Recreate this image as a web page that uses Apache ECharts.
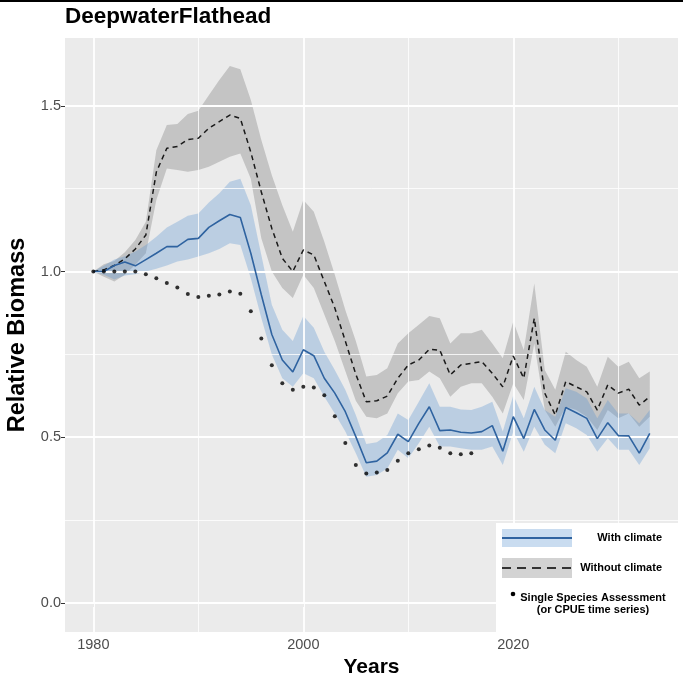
<!DOCTYPE html>
<html>
<head>
<meta charset="utf-8">
<script src="https://cdn.jsdelivr.net/npm/echarts@6/dist/echarts.min.js"></script>
<style>
html,body{margin:0;padding:0;background:#fff;}
#chart{width:683px;height:675px;}
</style>
</head>
<body>
<div id="chart"></div>
<script>
const years = [1980,1981,1982,1983,1984,1985,1986,1987,1988,1989,1990,1991,1992,1993,1994,1995,1996,1997,1998,1999,2000,2001,2002,2003,2004,2005,2006,2007,2008,2009,2010,2011,2012,2013,2014,2015,2016,2017,2018,2019,2020,2021,2022,2023,2024,2025,2026,2027,2028,2029,2030,2031,2032,2033];

const withClimate = [1.000,1.000,1.018,1.029,1.017,1.036,1.055,1.075,1.075,1.097,1.100,1.133,1.153,1.172,1.163,1.055,0.930,0.810,0.733,0.697,0.764,0.746,0.678,0.633,0.577,0.502,0.423,0.428,0.453,0.509,0.487,0.542,0.592,0.520,0.522,0.515,0.513,0.517,0.535,0.458,0.562,0.496,0.584,0.522,0.491,0.590,0.574,0.557,0.496,0.544,0.505,0.504,0.452,0.512];
const withLow = [1.000,0.990,0.976,0.988,0.992,1.000,1.008,1.018,1.030,1.036,1.045,1.055,1.068,1.085,1.080,0.980,0.860,0.750,0.678,0.652,0.693,0.678,0.622,0.572,0.517,0.452,0.381,0.386,0.406,0.462,0.437,0.482,0.532,0.472,0.472,0.467,0.462,0.462,0.472,0.416,0.517,0.456,0.532,0.477,0.452,0.542,0.527,0.507,0.456,0.497,0.462,0.462,0.416,0.467];
const withHigh = [1.000,1.017,1.036,1.046,1.060,1.080,1.105,1.133,1.150,1.168,1.175,1.208,1.236,1.271,1.280,1.200,1.050,0.900,0.824,0.790,0.866,0.830,0.758,0.703,0.643,0.567,0.480,0.485,0.507,0.572,0.552,0.607,0.663,0.592,0.592,0.584,0.582,0.592,0.607,0.517,0.627,0.557,0.652,0.582,0.562,0.648,0.637,0.617,0.557,0.612,0.572,0.572,0.542,0.582];

const withoutClimate = [1.000,1.005,1.018,1.038,1.068,1.110,1.300,1.372,1.377,1.398,1.402,1.432,1.452,1.472,1.462,1.360,1.240,1.130,1.040,1.000,1.065,1.050,0.970,0.890,0.790,0.690,0.607,0.610,0.624,0.678,0.718,0.733,0.765,0.763,0.688,0.718,0.723,0.728,0.693,0.652,0.745,0.678,0.859,0.633,0.567,0.668,0.652,0.637,0.582,0.658,0.633,0.645,0.597,0.622];
const withoutLow = [1.000,0.984,0.970,0.990,1.020,1.055,1.216,1.311,1.306,1.301,1.306,1.316,1.331,1.346,1.356,1.280,1.100,1.000,0.950,0.920,0.990,0.950,0.870,0.790,0.700,0.610,0.562,0.557,0.572,0.633,0.668,0.673,0.698,0.678,0.622,0.652,0.663,0.663,0.622,0.572,0.663,0.612,0.783,0.582,0.532,0.592,0.582,0.562,0.522,0.582,0.557,0.572,0.532,0.562];
const withoutHigh = [1.000,1.022,1.032,1.058,1.095,1.150,1.366,1.442,1.445,1.475,1.485,1.532,1.578,1.620,1.610,1.517,1.397,1.290,1.200,1.120,1.216,1.180,1.090,0.990,0.884,0.790,0.683,0.688,0.708,0.783,0.814,0.839,0.866,0.859,0.783,0.814,0.814,0.824,0.783,0.738,0.849,0.763,0.964,0.703,0.643,0.758,0.733,0.713,0.652,0.743,0.713,0.728,0.678,0.698];

const ssaYears = [1980,1981,1982,1983,1984,1985,1986,1987,1988,1989,1990,1991,1992,1993,1994,1995,1996,1997,1998,1999,2000,2001,2002,2003,2004,2005,2006,2007,2008,2009,2010,2011,2012,2013,2014,2015,2016];
const ssaValues = [1.000,1.000,1.000,1.000,1.000,0.992,0.980,0.965,0.952,0.932,0.923,0.927,0.931,0.940,0.933,0.880,0.798,0.717,0.663,0.643,0.652,0.650,0.627,0.563,0.483,0.416,0.391,0.394,0.401,0.429,0.452,0.464,0.475,0.468,0.452,0.449,0.452];

const xTickLabels = [1980,2000,2020];
const xMinorBreaks = [1990,2010,2030];
const yTickLabels = [0,0.5,1.0,1.5];
const yMinorBreaks = [0.25,0.75,1.25];

const pair = (xs, ys) => xs.map((x,i)=>[x, ys[i]]);

const FONT = '"Liberation Sans", Arial, Helvetica, sans-serif';
const BLUE = '#2f63a0';
const BLUE_BAND = 'rgba(90,150,210,0.33)';
const GRAY_BAND = 'rgba(70,70,70,0.24)';

const gridMarks = [];
xTickLabels.forEach(v=>gridMarks.push({xAxis:v, lineStyle:{color:'#fff', width:1.8, type:'solid'}}));
xMinorBreaks.forEach(v=>gridMarks.push({xAxis:v, lineStyle:{color:'#fff', width:0.8, type:'solid'}}));
yTickLabels.forEach(v=>gridMarks.push({yAxis:v, lineStyle:{color:'#fff', width:1.8, type:'solid'}}));
yMinorBreaks.forEach(v=>gridMarks.push({yAxis:v, lineStyle:{color:'#fff', width:0.8, type:'solid'}}));

function bandSeries(name, lo, hi, color, z){
  return {
    name:name, type:'custom', z:z, silent:true,
    data:years.map((y,i)=>[y, lo[i], hi[i]]),
    encode:{x:0, y:[1,2]},
    renderItem:function(params, api){
      if (params.dataIndex !== 0) return null;
      const pts = [];
      for (let i=0;i<years.length;i++) pts.push(api.coord([years[i], hi[i]]));
      for (let i=years.length-1;i>=0;i--) pts.push(api.coord([years[i], lo[i]]));
      return {type:'polygon', shape:{points:pts}, style:{fill:color}};
    }
  };
}

const LEGEND_FONT = 'bold 11px ' + FONT;

const chart = echarts.init(document.getElementById('chart'), null, {renderer:'canvas'});
chart.setOption({
  animation:false,
  backgroundColor:'#ffffff',
  textStyle:{fontFamily:FONT},
  title:{
    text:'DeepwaterFlathead', left:65, top:5, padding:0,
    textStyle:{fontFamily:FONT, fontSize:22.5, fontWeight:'bold', color:'#000'}
  },
  grid:{left:65, right:5, top:38, bottom:43, show:true, backgroundColor:'#ebebeb', borderWidth:0, containLabel:false, outerBoundsMode:'none'},
  xAxis:{
    type:'value', min:1977.3, max:2035.69,
    name:'Years', nameLocation:'middle', nameGap:20,
    nameTextStyle:{fontFamily:FONT, fontSize:21, fontWeight:'bold', color:'#000'},
    axisLine:{show:false},
    axisTick:{show:true, customValues:xTickLabels, length:4, lineStyle:{color:'#333', width:1}},
    axisLabel:{customValues:xTickLabels, color:'#4d4d4d', fontSize:14.5, margin:5, fontFamily:FONT,
      formatter:v=>String(Math.round(v))},
    splitLine:{show:false}
  },
  yAxis:{
    type:'value', min:-0.0875, max:1.7044,
    name:'Relative Biomass', nameLocation:'middle', nameGap:30,
    nameTextStyle:{fontFamily:FONT, fontSize:23.5, fontWeight:'bold', color:'#000'},
    axisLine:{show:false},
    axisTick:{show:true, customValues:yTickLabels, length:4, lineStyle:{color:'#333', width:1}},
    axisLabel:{customValues:yTickLabels, color:'#4d4d4d', fontSize:14.5, margin:4, fontFamily:FONT,
      formatter:v=>Number(v).toFixed(1)},
    splitLine:{show:false}
  },
  series:[
    {
      name:'gridlines', type:'line', data:[], z:1, silent:true,
      markLine:{silent:true, symbol:['none','none'], label:{show:false}, animation:false, data:gridMarks}
    },
    bandSeries('withoutBand', withoutLow, withoutHigh, GRAY_BAND, 2),
    bandSeries('withBand', withLow, withHigh, BLUE_BAND, 3),
    {
      name:'Without climate', type:'line', data:pair(years, withoutClimate),
      symbol:'none', lineStyle:{color:'#1a1a1a', width:1.5, type:[5,4]}, z:5
    },
    {
      name:'With climate', type:'line', data:pair(years, withClimate),
      symbol:'none', lineStyle:{color:BLUE, width:1.6}, z:6
    },
    {
      name:'Single Species Assessment', type:'scatter', data:pair(ssaYears, ssaValues),
      symbol:'circle', symbolSize:4, itemStyle:{color:'#000'}, z:7
    }
  ],
  graphic:[
    {type:'rect', left:0, top:0, shape:{width:683, height:2}, style:{fill:'#000'}, z:100},
    {type:'group', left:496, top:523, z:100, children:[
      {type:'rect', shape:{x:0, y:0, width:182, height:109}, style:{fill:'#fff'}, z:100},
      {type:'rect', shape:{x:6, y:6, width:70, height:18}, style:{fill:'rgba(90,150,210,0.33)'}, z:101},
      {type:'line', shape:{x1:6, y1:15, x2:76, y2:15}, style:{stroke:BLUE, lineWidth:2}, z:102},
      {type:'text', x:166, y:15, style:{text:'With climate', fill:'#000', font:LEGEND_FONT, align:'right', verticalAlign:'middle'}, z:102},
      {type:'rect', shape:{x:6, y:35, width:70, height:20}, style:{fill:'rgba(70,70,70,0.24)'}, z:101},
      {type:'line', shape:{x1:6, y1:45, x2:76, y2:45}, style:{stroke:'#333', lineWidth:2, lineDash:[9,6]}, z:102},
      {type:'text', x:166, y:45, style:{text:'Without climate', fill:'#000', font:LEGEND_FONT, align:'right', verticalAlign:'middle'}, z:102},
      {type:'circle', shape:{cx:17, cy:71, r:2.3}, style:{fill:'#000'}, z:103},
      {type:'text', x:97, y:75, style:{text:'Single Species Assessment', fill:'#000', font:LEGEND_FONT, align:'center', verticalAlign:'middle'}, z:102},
      {type:'text', x:97, y:87, style:{text:'(or CPUE time series)', fill:'#000', font:LEGEND_FONT, align:'center', verticalAlign:'middle'}, z:102}
    ]}
  ]
});
</script>
</body>
</html>
